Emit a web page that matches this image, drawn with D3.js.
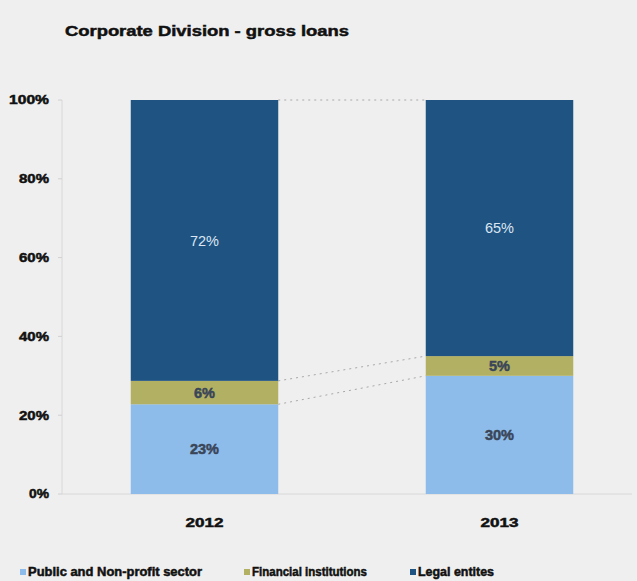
<!DOCTYPE html>
<html><head><meta charset="utf-8">
<script src="https://cdn.jsdelivr.net/npm/d3@7"></script>
<style>
html,body{margin:0;padding:0;background:#efefef;}
svg{display:block;font-family:"Liberation Sans",Arial,sans-serif;}
</style></head>
<body><svg id="c" width="637" height="581"></svg>
<script>
const title = "Corporate Division  - gross loans";
const years = ["2012", "2013"];
const seriesNames = ["Public and Non-profit sector", "Financial institutions", "Legal entites"];
const publicSector = [23, 30];
const financial = [6, 5];
const legal = [72, 65];
const yTicks = [0, 0.2, 0.4, 0.6, 0.8, 1];
const colors = ["#8dbbea", "#b2b062", "#1e5382"];
const labelColors = ["#3a4658", "#3a4658", "#dce6f2"];

const svg = d3.select("#c");
const rows = years.map((y, i) => ({year: y, s0: publicSector[i], s1: financial[i], s2: legal[i]}));
const keys = ["s0", "s1", "s2"];
const stack = d3.stack().keys(keys).offset(d3.stackOffsetExpand)(rows);

const x = d3.scaleBand().domain(years).range([57, 647]).paddingInner(0.5).paddingOuter(0.25);
const y = d3.scaleLinear().domain([0, 1]).range([494, 100]);

function heavy(sel, color) {
  return sel.attr("font-weight", "bold").attr("fill", color).attr("stroke", color)
    .attr("stroke-width", 0.5).attr("lengthAdjust", "spacingAndGlyphs");
}

heavy(svg.append("text").attr("x", 65).attr("y", 36).text(title)
  .attr("font-size", 15).attr("textLength", 284), "#111");

// axis
svg.append("line").attr("x1", 62).attr("x2", 62).attr("y1", y(1)).attr("y2", y(0))
  .attr("stroke", "#d8d8d8");
svg.append("line").attr("x1", 62).attr("x2", 632).attr("y1", y(0)).attr("y2", y(0))
  .attr("stroke", "#d8d8d8");
const yAxis = svg.append("g");
yTicks.forEach(t => {
  yAxis.append("line").attr("x1", 58).attr("x2", 62).attr("y1", y(t)).attr("y2", y(t)).attr("stroke", "#d0d0d0");
  const lbl = d3.format(".0%")(t);
  heavy(yAxis.append("text").attr("x", 49).attr("y", y(t)).attr("dy", "0.35em").attr("text-anchor", "end")
    .attr("font-size", 12.5).attr("textLength", lbl.length * 10)
    .text(lbl), "#111");
});

// connector lines
stack.forEach(layer => {
  svg.append("line")
    .attr("x1", x(years[0]) + x.bandwidth()).attr("y1", y(layer[0][1]))
    .attr("x2", x(years[1])).attr("y2", y(layer[1][1]))
    .attr("stroke", "#a8a8a8").attr("stroke-width", 1).attr("stroke-dasharray", "2,4");
});

// bars
stack.forEach((layer, li) => {
  svg.append("g").selectAll("rect").data(layer).join("rect")
    .attr("x", d => x(d.data.year)).attr("width", x.bandwidth())
    .attr("y", d => y(d[1])).attr("height", d => y(d[0]) - y(d[1]))
    .attr("fill", colors[li]);
  const t = svg.append("g").selectAll("text").data(layer).join("text")
    .attr("x", d => x(d.data.year) + x.bandwidth() / 2)
    .attr("y", d => y((d[0] + d[1]) / 2)).attr("dy", "0.35em")
    .attr("text-anchor", "middle")
    .attr("font-size", 14.5)
    .attr("fill", labelColors[li])
    .text(d => d.data[keys[li]] + "%");
  if (li !== 2) t.attr("font-weight", "bold").attr("stroke", labelColors[li]).attr("stroke-width", 0.5);
});

// x labels
years.forEach(yr => {
  heavy(svg.append("text").attr("x", x(yr) + x.bandwidth() / 2).attr("y", 527)
    .attr("text-anchor", "middle").attr("font-size", 13).attr("textLength", 38)
    .text(yr), "#111");
});

// legend
const legendX = [20, 244, 410];
const legendLen = [174, 115, 76];
seriesNames.forEach((n, i) => {
  svg.append("rect").attr("x", legendX[i]).attr("y", 569).attr("width", 6).attr("height", 6).attr("fill", colors[i]);
  heavy(svg.append("text").attr("x", legendX[i] + 8).attr("y", 576)
    .attr("font-size", 12.5).attr("textLength", legendLen[i]).text(n), "#111");
});
</script></body></html>
